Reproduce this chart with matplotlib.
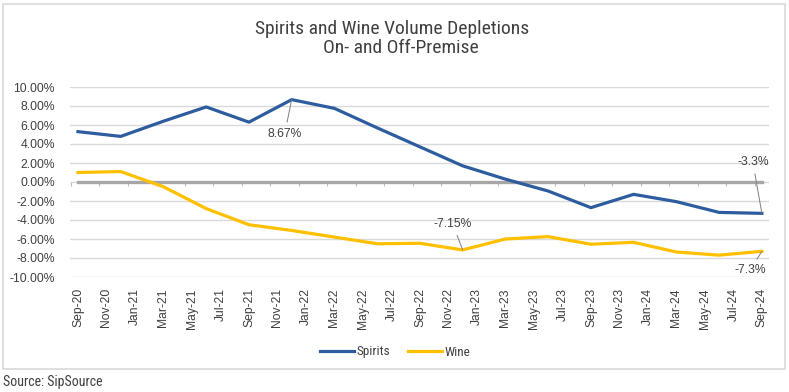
import matplotlib
matplotlib.use("Agg")
import numpy as np
import pandas as pd
from matplotlib import pyplot as plt
from matplotlib.patches import Rectangle

# quarterly depletion values (%)
quarters = ["Sep-20", "Dec-20", "Mar-21", "Jun-21", "Sep-21", "Dec-21", "Mar-22", "Jun-22",
            "Sep-22", "Dec-22", "Mar-23", "Jun-23", "Sep-23", "Dec-23", "Mar-24", "Jun-24", "Sep-24"]
spirits = [5.3, 4.8, 6.4, 7.9, 6.3, 8.67, 7.75, 5.7, 3.7, 1.7, 0.3, -0.95, -2.7, -1.3, -2.07, -3.2, -3.3]
wine = [1.0, 1.1, -0.5, -2.8, -4.5, -5.1, -5.8, -6.5, -6.45, -7.15, -6.0, -5.75, -6.55, -6.35, -7.37, -7.7, -7.3]
zero = [0.0] * len(quarters)

month_labels = ["Sep-20", "Nov-20", "Jan-21", "Mar-21", "May-21", "Jul-21", "Sep-21", "Nov-21",
                "Jan-22", "Mar-22", "May-22", "Jul-22", "Sep-22", "Nov-22", "Jan-23", "Mar-23",
                "May-23", "Jul-23", "Sep-23", "Nov-23", "Jan-24", "Mar-24", "May-24", "Jul-24", "Sep-24"]

# month index from Sep-20
d = pd.to_datetime(quarters, format="%b-%y")
x = (d.year - 2020) * 12 + d.month - 9
dl = pd.to_datetime(month_labels, format="%b-%y")
xl = (dl.year - 2020) * 12 + dl.month - 9

blue = "#2e5d9f"
gold = "#ffc000"
grey = "#a6a6a6"
txt = "#404040"

narrow = ["Roboto Condensed", "Liberation Sans", "DejaVu Sans"]
plt.rcParams["font.family"] = ["Liberation Sans", "DejaVu Sans"]

fig = plt.figure(figsize=(7.89, 3.92), dpi=100)
ax = fig.add_axes([70 / 789, 1 - 277 / 392, 699 / 789, 190 / 392])

ax.set_ylim(-10, 10)
ax.set_xlim(-0.56, 48.5)
ax.set_yticks(np.arange(-10, 11, 2))
ax.set_yticklabels(["%.2f%%" % v for v in np.arange(-10, 11, 2)], fontsize=8.7, color=txt)
ax.grid(axis="y", color="#d9d9d9", lw=1)
ax.set_axisbelow(True)
ax.set_xticks(xl)
ax.set_xticklabels(month_labels, rotation=90, fontsize=8.7, color=txt)
ax.tick_params(axis="both", length=0)
ax.tick_params(axis="x", pad=8)
ax.tick_params(axis="y", pad=11)
for s in ax.spines.values():
    s.set_visible(False)

# axis line with tick marks crossing at zero
sec = ax.secondary_xaxis(0.5)
sec.set_xticks(np.arange(-0.5, 48, 2))
sec.xaxis.set_ticks_position("bottom")
sec.tick_params(axis="x", direction="out", length=3, color="#bfbfbf", labelbottom=False, labeltop=False)
sec.spines["bottom"].set_color("#bfbfbf")
sec.spines["top"].set_visible(False)

ax.plot(x, zero, color=grey, lw=2.4, zorder=2)
ax.plot(x, spirits, color=blue, lw=2.3, zorder=3, label="Spirits")
ax.plot(x, wine, color=gold, lw=2.3, zorder=3, label="Wine")

lead = dict(arrowstyle="-", color="#7f7f7f", lw=0.7, shrinkA=2, shrinkB=0)
ax.annotate("8.67%", (x[5], spirits[5]), xytext=(-7, -34), textcoords="offset pixels",
            ha="center", va="center", fontsize=8.7, color=txt, arrowprops=lead)
ax.annotate("-7.15%", (x[9], wine[9]), xytext=(-10, 26), textcoords="offset pixels",
            ha="center", va="center", fontsize=8.7, color=txt, arrowprops=lead)
ax.annotate("-3.3%", (x[16], spirits[16]), xytext=(-9, 51), textcoords="offset pixels",
            ha="center", va="center", fontsize=8.7, color=txt, arrowprops=lead)
ax.annotate("-7.3%", (x[16], wine[16]), xytext=(-12, -19), textcoords="offset pixels",
            ha="center", va="center", fontsize=8.7, color=txt, arrowprops=lead)

fig.text(392 / 789, 1 - 29 / 392, "Spirits and Wine Volume Depletions", ha="center", va="center",
         fontsize=14, color=txt, family=narrow)
fig.text(401 / 789, 1 - 48 / 392, "On- and Off-Premise", ha="center", va="center",
         fontsize=14, color=txt, family=narrow)

h, lab = ax.get_legend_handles_labels()
fig.legend(h, lab, loc="center", bbox_to_anchor=(395 / 789, 1 - 352 / 392), ncol=2, frameon=False,
           prop={"family": narrow, "size": 9.5}, handlelength=2.6, handletextpad=0.2, columnspacing=1.3,
           labelcolor=txt)

fig.patches.append(Rectangle((3 / 789, 1 - 369 / 392), 782 / 789, 365 / 392, transform=fig.transFigure,
                             fill=False, ec="#d9d9d9", lw=1.2))
fig.text(3 / 789, 1 - 382 / 392, "Source: SipSource", ha="left", va="center", fontsize=10,
         color=txt, family=narrow)

fig.savefig("out.png", dpi=100)
